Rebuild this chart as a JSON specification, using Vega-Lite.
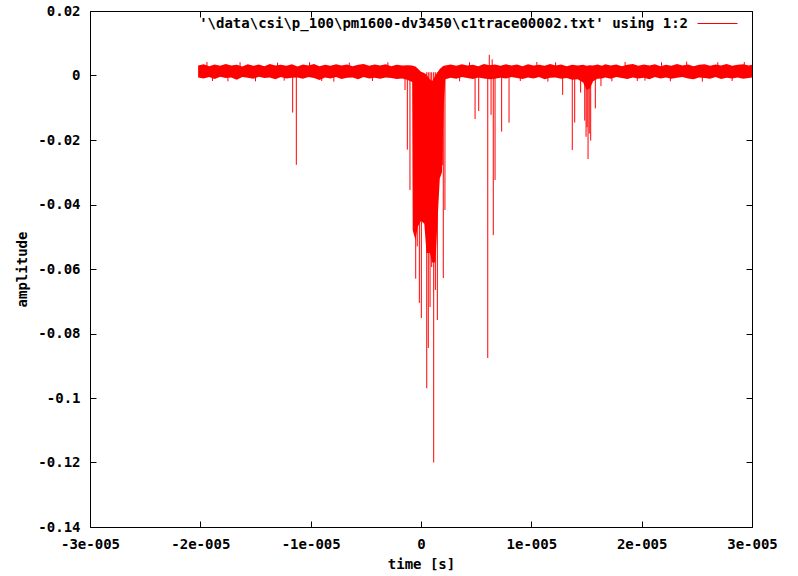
{
  "$schema": "https://vega.github.io/schema/vega-lite/v6.json",
  "width": 662,
  "height": 516,
  "autosize": {"type": "none"},
  "padding": {"left": 90, "top": 11, "right": 46, "bottom": 49},
  "background": "white",
  "config": {
    "view": {"stroke": "black", "strokeWidth": 1},
    "axis": {
      "domain": false,
      "grid": false,
      "tickColor": "black",
      "tickSize": -6,
      "labelFont": "DejaVu Sans Mono",
      "labelFontSize": 14,
      "labelFontWeight": "bold",
      "labelColor": "black",
      "titleFont": "DejaVu Sans Mono",
      "titleFontSize": 14,
      "titleFontWeight": "bold",
      "titleColor": "black"
    }
  },
  "datasets": {
    "envelope": [
      {"t": -2.02e-5, "hi": 0.0031, "lo": -0.0006},
      {"t": -1.97e-5, "hi": 0.0035, "lo": -0.0009},
      {"t": -1.92e-5, "hi": 0.0029, "lo": -0.0005},
      {"t": -1.87e-5, "hi": 0.0034, "lo": -0.0011},
      {"t": -1.82e-5, "hi": 0.0030, "lo": -0.0004},
      {"t": -1.77e-5, "hi": 0.0036, "lo": -0.0008},
      {"t": -1.72e-5, "hi": 0.0031, "lo": -0.0006},
      {"t": -1.67e-5, "hi": 0.0033, "lo": -0.0013},
      {"t": -1.62e-5, "hi": 0.0028, "lo": -0.0005},
      {"t": -1.57e-5, "hi": 0.0035, "lo": -0.0007},
      {"t": -1.52e-5, "hi": 0.0030, "lo": -0.0010},
      {"t": -1.47e-5, "hi": 0.0034, "lo": -0.0004},
      {"t": -1.42e-5, "hi": 0.0029, "lo": -0.0008},
      {"t": -1.37e-5, "hi": 0.0036, "lo": -0.0006},
      {"t": -1.32e-5, "hi": 0.0031, "lo": -0.0012},
      {"t": -1.27e-5, "hi": 0.0033, "lo": -0.0005},
      {"t": -1.22e-5, "hi": 0.0030, "lo": -0.0009},
      {"t": -1.17e-5, "hi": 0.0035, "lo": -0.0007},
      {"t": -1.12e-5, "hi": 0.0028, "lo": -0.0006},
      {"t": -1.07e-5, "hi": 0.0034, "lo": -0.0010},
      {"t": -1.02e-5, "hi": 0.0031, "lo": -0.0005},
      {"t": -9.7e-6, "hi": 0.0036, "lo": -0.0008},
      {"t": -9.2e-6, "hi": 0.0029, "lo": -0.0014},
      {"t": -8.7e-6, "hi": 0.0033, "lo": -0.0006},
      {"t": -8.2e-6, "hi": 0.0030, "lo": -0.0009},
      {"t": -7.7e-6, "hi": 0.0035, "lo": -0.0005},
      {"t": -7.2e-6, "hi": 0.0031, "lo": -0.0011},
      {"t": -6.7e-6, "hi": 0.0034, "lo": -0.0007},
      {"t": -6.2e-6, "hi": 0.0029, "lo": -0.0006},
      {"t": -5.7e-6, "hi": 0.0033, "lo": -0.0012},
      {"t": -5.2e-6, "hi": 0.0036, "lo": -0.0005},
      {"t": -4.7e-6, "hi": 0.0030, "lo": -0.0009},
      {"t": -4.2e-6, "hi": 0.0034, "lo": -0.0007},
      {"t": -3.7e-6, "hi": 0.0031, "lo": -0.0010},
      {"t": -3.2e-6, "hi": 0.0035, "lo": -0.0006},
      {"t": -2.7e-6, "hi": 0.0029, "lo": -0.0008},
      {"t": -2.2e-6, "hi": 0.0033, "lo": -0.0011},
      {"t": -1.7e-6, "hi": 0.0031, "lo": -0.0009},
      {"t": -1.2e-6, "hi": 0.0032, "lo": -0.0014},
      {"t": -8.0e-7, "hi": 0.0031, "lo": -0.0020},
      {"t": -7.5e-7, "hi": 0.0030, "lo": -0.0480},
      {"t": -5.0e-7, "hi": 0.0028, "lo": -0.0510},
      {"t": -3.0e-7, "hi": 0.0022, "lo": -0.0470},
      {"t": 0.0, "hi": 0.0012, "lo": -0.0450},
      {"t": 3.0e-7, "hi": 0.0008, "lo": -0.0460},
      {"t": 5.0e-7, "hi": 0.0002, "lo": -0.0550},
      {"t": 8.0e-7, "hi": -0.0012, "lo": -0.0550},
      {"t": 1.0e-6, "hi": -0.0018, "lo": -0.0580},
      {"t": 1.3e-6, "hi": 0.0000, "lo": -0.0580},
      {"t": 1.5e-6, "hi": 0.0010, "lo": -0.0450},
      {"t": 1.7e-6, "hi": 0.0020, "lo": -0.0320},
      {"t": 1.9e-6, "hi": 0.0026, "lo": -0.0300},
      {"t": 2.05e-6, "hi": 0.0030, "lo": -0.0100},
      {"t": 2.2e-6, "hi": 0.0031, "lo": -0.0012},
      {"t": 2.7e-6, "hi": 0.0034, "lo": -0.0007},
      {"t": 3.2e-6, "hi": 0.0030, "lo": -0.0010},
      {"t": 3.7e-6, "hi": 0.0035, "lo": -0.0005},
      {"t": 4.2e-6, "hi": 0.0031, "lo": -0.0008},
      {"t": 4.7e-6, "hi": 0.0033, "lo": -0.0011},
      {"t": 5.2e-6, "hi": 0.0029, "lo": -0.0006},
      {"t": 5.7e-6, "hi": 0.0036, "lo": -0.0009},
      {"t": 6.2e-6, "hi": 0.0032, "lo": -0.0012},
      {"t": 6.7e-6, "hi": 0.0034, "lo": -0.0010},
      {"t": 7.2e-6, "hi": 0.0030, "lo": -0.0007},
      {"t": 7.7e-6, "hi": 0.0035, "lo": -0.0009},
      {"t": 8.2e-6, "hi": 0.0031, "lo": -0.0005},
      {"t": 8.7e-6, "hi": 0.0034, "lo": -0.0008},
      {"t": 9.2e-6, "hi": 0.0029, "lo": -0.0011},
      {"t": 9.7e-6, "hi": 0.0035, "lo": -0.0006},
      {"t": 1.02e-5, "hi": 0.0031, "lo": -0.0009},
      {"t": 1.07e-5, "hi": 0.0033, "lo": -0.0005},
      {"t": 1.12e-5, "hi": 0.0030, "lo": -0.0012},
      {"t": 1.17e-5, "hi": 0.0036, "lo": -0.0007},
      {"t": 1.22e-5, "hi": 0.0031, "lo": -0.0006},
      {"t": 1.27e-5, "hi": 0.0034, "lo": -0.0010},
      {"t": 1.32e-5, "hi": 0.0029, "lo": -0.0008},
      {"t": 1.37e-5, "hi": 0.0033, "lo": -0.0013},
      {"t": 1.42e-5, "hi": 0.0031, "lo": -0.0012},
      {"t": 1.47e-5, "hi": 0.0033, "lo": -0.0022},
      {"t": 1.50e-5, "hi": 0.0030, "lo": -0.0045},
      {"t": 1.53e-5, "hi": 0.0032, "lo": -0.0040},
      {"t": 1.56e-5, "hi": 0.0031, "lo": -0.0018},
      {"t": 1.60e-5, "hi": 0.0034, "lo": -0.0010},
      {"t": 1.64e-5, "hi": 0.0030, "lo": -0.0009},
      {"t": 1.67e-5, "hi": 0.0035, "lo": -0.0006},
      {"t": 1.72e-5, "hi": 0.0031, "lo": -0.0010},
      {"t": 1.77e-5, "hi": 0.0034, "lo": -0.0005},
      {"t": 1.82e-5, "hi": 0.0029, "lo": -0.0008},
      {"t": 1.87e-5, "hi": 0.0033, "lo": -0.0011},
      {"t": 1.92e-5, "hi": 0.0036, "lo": -0.0006},
      {"t": 1.97e-5, "hi": 0.0030, "lo": -0.0009},
      {"t": 2.02e-5, "hi": 0.0034, "lo": -0.0007},
      {"t": 2.07e-5, "hi": 0.0031, "lo": -0.0012},
      {"t": 2.12e-5, "hi": 0.0035, "lo": -0.0005},
      {"t": 2.17e-5, "hi": 0.0029, "lo": -0.0009},
      {"t": 2.22e-5, "hi": 0.0033, "lo": -0.0006},
      {"t": 2.27e-5, "hi": 0.0030, "lo": -0.0010},
      {"t": 2.32e-5, "hi": 0.0036, "lo": -0.0007},
      {"t": 2.37e-5, "hi": 0.0031, "lo": -0.0005},
      {"t": 2.42e-5, "hi": 0.0034, "lo": -0.0009},
      {"t": 2.47e-5, "hi": 0.0029, "lo": -0.0012},
      {"t": 2.52e-5, "hi": 0.0033, "lo": -0.0006},
      {"t": 2.57e-5, "hi": 0.0035, "lo": -0.0008},
      {"t": 2.62e-5, "hi": 0.0030, "lo": -0.0010},
      {"t": 2.67e-5, "hi": 0.0034, "lo": -0.0005},
      {"t": 2.72e-5, "hi": 0.0031, "lo": -0.0011},
      {"t": 2.77e-5, "hi": 0.0036, "lo": -0.0007},
      {"t": 2.82e-5, "hi": 0.0030, "lo": -0.0009},
      {"t": 2.87e-5, "hi": 0.0033, "lo": -0.0006},
      {"t": 2.92e-5, "hi": 0.0035, "lo": -0.0010},
      {"t": 2.97e-5, "hi": 0.0031, "lo": -0.0008},
      {"t": 3.0e-5, "hi": 0.0033, "lo": -0.0006}
    ],
    "spikes": [
      {"t": -1.94e-5, "peak": 0.0042},
      {"t": -1.89e-5, "peak": -0.0017},
      {"t": -1.75e-5, "peak": -0.0018},
      {"t": -1.64e-5, "peak": 0.0041},
      {"t": -1.50e-5, "peak": -0.0018},
      {"t": -1.30e-5, "peak": 0.0040},
      {"t": -1.24e-5, "peak": -0.0016},
      {"t": -1.163e-5, "peak": -0.0115},
      {"t": -1.130e-5, "peak": -0.0277},
      {"t": -1.01e-5, "peak": 0.0041},
      {"t": -9.0e-6, "peak": -0.0017},
      {"t": -7.9e-6, "peak": -0.0019},
      {"t": -6.5e-6, "peak": 0.0040},
      {"t": -4.4e-6, "peak": -0.0017},
      {"t": -3.0e-6, "peak": 0.0041},
      {"t": -1.45e-6, "peak": -0.0045},
      {"t": -1.24e-6, "peak": -0.0230},
      {"t": -1.00e-6, "peak": -0.0355},
      {"t": -4.8e-7, "peak": -0.0630},
      {"t": -3.4e-7, "peak": -0.0530},
      {"t": -1.5e-7, "peak": -0.0705},
      {"t": 3.0e-8, "peak": -0.0752},
      {"t": 5.2e-7, "peak": -0.0970},
      {"t": 6.6e-7, "peak": -0.0845},
      {"t": 8.2e-7, "peak": -0.0718},
      {"t": 9.7e-7, "peak": -0.0594},
      {"t": 1.15e-6, "peak": -0.1200},
      {"t": 1.30e-6, "peak": -0.0665},
      {"t": 1.48e-6, "peak": -0.0758},
      {"t": 1.93e-6, "peak": -0.0278},
      {"t": 2.02e-6, "peak": -0.0628},
      {"t": 2.17e-6, "peak": -0.0417},
      {"t": 3.5e-6, "peak": -0.0018},
      {"t": 4.4e-6, "peak": 0.0041},
      {"t": 4.90e-6, "peak": -0.0135},
      {"t": 5.23e-6, "peak": -0.0110},
      {"t": 6.05e-6, "peak": -0.0876},
      {"t": 6.19e-6, "peak": 0.0064},
      {"t": 6.35e-6, "peak": -0.0122},
      {"t": 6.45e-6, "peak": 0.0050},
      {"t": 6.55e-6, "peak": -0.0495},
      {"t": 6.71e-6, "peak": -0.0324},
      {"t": 7.31e-6, "peak": -0.0174},
      {"t": 7.98e-6, "peak": -0.0146},
      {"t": 9.0e-6, "peak": -0.0017},
      {"t": 1.05e-5, "peak": 0.0042},
      {"t": 1.15e-5, "peak": -0.0019},
      {"t": 1.22e-5, "peak": 0.0041},
      {"t": 1.284e-5, "peak": -0.0060},
      {"t": 1.371e-5, "peak": -0.0231},
      {"t": 1.393e-5, "peak": -0.0146},
      {"t": 1.447e-5, "peak": -0.0053},
      {"t": 1.484e-5, "peak": -0.0140},
      {"t": 1.496e-5, "peak": -0.0190},
      {"t": 1.505e-5, "peak": -0.0160},
      {"t": 1.514e-5, "peak": -0.0259},
      {"t": 1.525e-5, "peak": -0.0180},
      {"t": 1.538e-5, "peak": -0.0202},
      {"t": 1.580e-5, "peak": -0.0102},
      {"t": 1.631e-5, "peak": -0.0033},
      {"t": 1.73e-5, "peak": -0.0018},
      {"t": 1.85e-5, "peak": 0.0042},
      {"t": 1.96e-5, "peak": -0.0017},
      {"t": 2.03e-5, "peak": -0.0016},
      {"t": 2.18e-5, "peak": 0.0041},
      {"t": 2.26e-5, "peak": -0.0018},
      {"t": 2.408e-5, "peak": 0.0043},
      {"t": 2.55e-5, "peak": -0.0019},
      {"t": 2.69e-5, "peak": 0.0041},
      {"t": 2.82e-5, "peak": -0.0017},
      {"t": 2.93e-5, "peak": 0.0042}
    ]
  },
  "layer": [
    {
      "data": {"name": "envelope"},
      "mark": {"type": "area", "color": "#ff0000", "orient": "vertical", "interpolate": "linear"},
      "encoding": {
        "x": {
          "field": "t", "type": "quantitative",
          "scale": {"domain": [-3e-5, 3e-5], "nice": false, "zero": false},
          "axis": {
            "orient": "bottom",
            "values": [-3e-5, -2e-5, -1e-5, 0, 1e-5, 2e-5, 3e-5],
            "labelExpr": "datum.value == 0 ? '0' : round(datum.value * 1e5) + 'e-005'",
            "labelPadding": 16,
            "labelFlush": false,
            "title": "time [s]",
            "titlePadding": 6
          }
        },
        "y": {
          "field": "lo", "type": "quantitative",
          "scale": {"domain": [-0.14, 0.02], "nice": false, "zero": false},
          "axis": {
            "orient": "left",
            "values": [-0.14, -0.12, -0.1, -0.08, -0.06, -0.04, -0.02, 0, 0.02],
            "labelExpr": "datum.value == 0 ? '0' : '' + round(datum.value * 100) / 100",
            "labelPadding": 16,
            "labelFlush": false,
            "title": "amplitude",
            "titlePadding": 8
          }
        },
        "y2": {"field": "hi"}
      }
    },
    {
      "data": {"name": "spikes"},
      "mark": {"type": "rule", "strokeWidth": 1},
      "encoding": {
        "x": {
          "field": "t", "type": "quantitative",
          "axis": {
            "orient": "top",
            "values": [-3e-5, -2e-5, -1e-5, 0, 1e-5, 2e-5, 3e-5],
            "labels": false,
            "title": null
          }
        },
        "y": {
          "field": "peak", "type": "quantitative",
          "axis": {
            "orient": "right",
            "values": [-0.14, -0.12, -0.1, -0.08, -0.06, -0.04, -0.02, 0, 0.02],
            "labels": false,
            "title": null
          }
        },
        "y2": {"datum": 0.001},
        "color": {
          "datum": "'\\data\\csi\\p_100\\pm1600-dv3450\\c1trace00002.txt' using 1:2",
          "type": "nominal",
          "scale": {"range": ["#ff0000"]},
          "legend": {
            "title": null,
            "orient": "none",
            "legendX": 607,
            "legendY": -8,
            "padding": 0,
            "symbolType": "stroke",
            "symbolSize": 1600,
            "symbolStrokeWidth": 1,
            "labelAlign": "right",
            "labelOffset": -50,
            "labelLimit": 1000,
            "labelFont": "DejaVu Sans Mono",
            "labelFontSize": 14,
            "labelFontWeight": "bold",
            "labelColor": "black"
          }
        }
      }
    }
  ],
  "resolve": {"axis": {"x": "independent", "y": "independent"}}
}
